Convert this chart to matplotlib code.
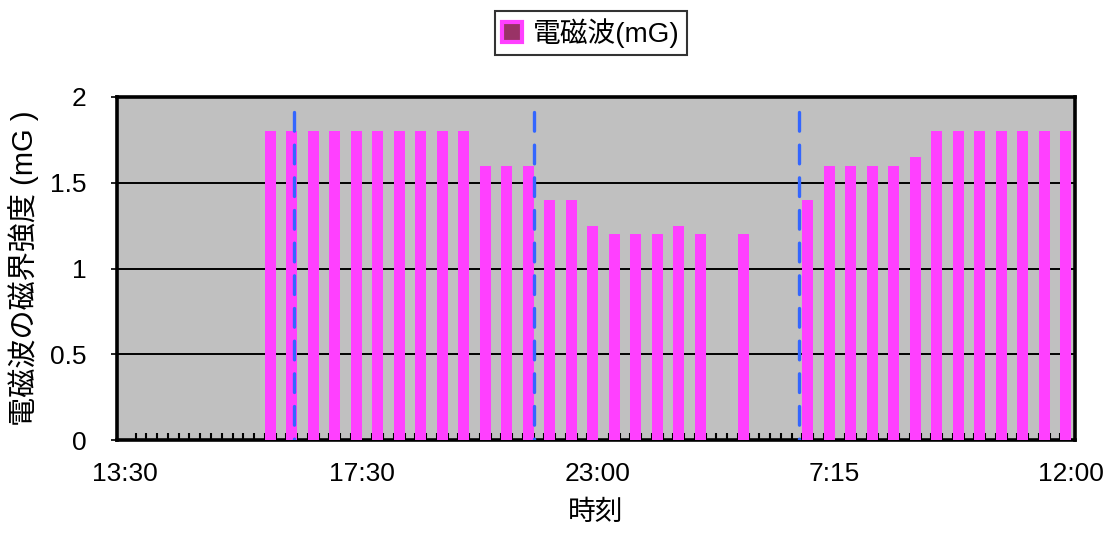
import numpy as np
import matplotlib
matplotlib.use("Agg")
import matplotlib.pyplot as plt
from matplotlib.patches import Patch

plt.rcParams['font.family'] = ['Liberation Sans', 'Noto Sans CJK JP', 'DejaVu Sans']

# Magnetic field readings (mG), one every other time row starting at row 13
readings = [1.8, 1.8, 1.8, 1.8, 1.8, 1.8, 1.8, 1.8, 1.8, 1.8,
            1.6, 1.6, 1.6, 1.4, 1.4, 1.25, 1.2, 1.2, 1.2, 1.25,
            1.2, np.nan, 1.2, np.nan, np.nan, 1.4, 1.6, 1.6, 1.6, 1.6,
            1.65, 1.8, 1.8, 1.8, 1.8, 1.8, 1.8, 1.8]
n_rows = 88
first_row = 13

time_labels = ['13:30', '17:30', '23:00', '7:15', '12:00']
label_rows = [0, 22, 44, 66, 88]

# rows where a dashed marker line is drawn
event_rows = [15.7, 38.05, 62.65]

bar_color = '#FF40FF'
plot_bg = '#C0C0C0'

fig = plt.figure(figsize=(11.11, 5.34), dpi=100)
ax = fig.add_axes([117 / 1111, 94 / 534, 958 / 1111, 343 / 534])
ax.set_facecolor(plot_bg)

rows = np.arange(first_row, n_rows, 2)
vals = np.array(readings, dtype=float)
mask = ~np.isnan(vals)
ax.bar(rows[mask], vals[mask], width=1.0, align='edge', color=bar_color,
       linewidth=0, zorder=3)

# dashed event markers, drawn top-down so the pattern starts at the top
for r in event_rows:
    ax.plot([r, r], [1.91, 0], color='#3366FF', lw=2.4,
            linestyle=(0, (5.6, 4.2)), dash_capstyle='round',
            solid_capstyle='round', zorder=4)

ax.set_ylim(0, 2)
ax.set_xlim(-0.744, n_rows + 0.37)
ax.set_yticks([0, 0.5, 1, 1.5, 2])
ax.set_yticklabels(['0', '0.5', '1', '1.5', '2'])
ax.yaxis.grid(True, color='black', lw=1.4, zorder=1)
ax.set_axisbelow(True)

ax.set_xticks(label_rows)
ax.set_xticklabels(time_labels)
ax.set_xticks(np.arange(0, n_rows + 1), minor=True)
ax.tick_params(axis='x', which='major', length=0, pad=16, labelsize=19)
ax.tick_params(axis='x', which='minor', direction='in', length=5,
               width=1.5, color='black')
ax.tick_params(axis='y', direction='out', length=4, width=1.2,
               pad=18, labelsize=19)

for side in ['left', 'right', 'top', 'bottom']:
    ax.spines[side].set_linewidth(2.6)
    ax.spines[side].set_color('black')

ax.set_xlabel('時刻', fontsize=20, labelpad=10)
ax.set_ylabel('電磁波の磁界強度 (mG )', fontsize=21, labelpad=8)

handle = Patch(facecolor='#993366', edgecolor=bar_color, linewidth=3)
leg = fig.legend([handle], ['電磁波(mG)'], loc='center',
                 bbox_to_anchor=(591 / 1111, 1 - 33 / 534), fontsize=20,
                 frameon=True, fancybox=False, handlelength=0.7,
                 handleheight=0.7, handletextpad=0.4, borderpad=0.25)
leg.get_frame().set_edgecolor('black')
leg.get_frame().set_linewidth(1.5)

fig.savefig('out.png', dpi=100)
